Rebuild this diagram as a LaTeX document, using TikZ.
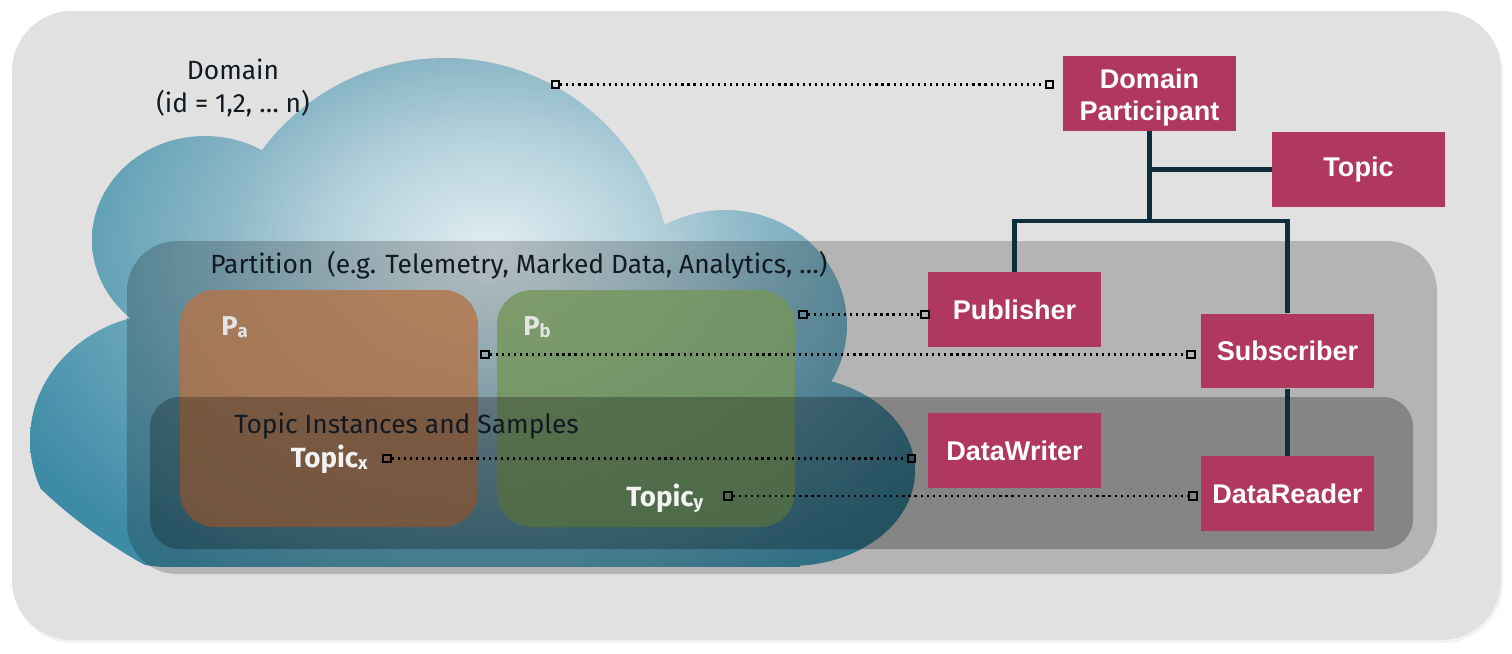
\documentclass[tikz,border=0pt]{standalone}
\usepackage{fontspec}
\setmainfont{Fira Sans}
\newfontfamily\arialfont{Liberation Sans}
\definecolor{bggray}{HTML}{E1E1E1}
\definecolor{entcol}{HTML}{B0385E}
\definecolor{treecol}{HTML}{0F2D3B}
\definecolor{pacol}{HTML}{B47348}
\definecolor{pbcol}{HTML}{749659}
\definecolor{txtdark}{HTML}{111A22}
\definecolor{lightlbl}{HTML}{E4E4E4}
\definecolor{cl0}{RGB}{226,237,242}
\definecolor{cl1}{RGB}{181,210,220}
\definecolor{cl2}{RGB}{140,183,199}
\definecolor{cl3}{RGB}{100,162,183}
\definecolor{cl4}{RGB}{62,139,166}
\pgfdeclareradialshading{cloudshade}{\pgfpoint{0bp}{0bp}}{color(0bp)=(cl0); color(7bp)=(cl1); color(12bp)=(cl2); color(17.5bp)=(cl3); color(24bp)=(cl4); color(50bp)=(cl4)}
\newcommand\lsub[1]{\raisebox{-1.4pt}{\fontsize{10.5}{10.5}\selectfont #1}}
\begin{document}
\begin{tikzpicture}[x=0.02cm,y=-0.02cm,
  lbl/.style={inner sep=0pt, text=txtdark, font=\fontsize{15}{18.7}\selectfont},
  wlbl/.style={inner sep=0pt, text=white!95!black, font=\bfseries\fontsize{15.8}{18}\selectfont},
  plbl/.style={inner sep=0pt, text=lightlbl, font=\bfseries\fontsize{15.5}{18}\selectfont},
  ent/.style={fill=entcol, text=white, align=center, inner sep=0pt,
    minimum width=3.46cm, minimum height=1.5cm,
    font=\arialfont\bfseries\fontsize{15.4}{17.8}\selectfont},
  sq/.style={draw=black, line width=1pt, minimum size=0.15cm, inner sep=0pt},
  dots/.style={draw=black, line width=1.25pt, dash pattern=on 1.25pt off 2.2pt},
  tree/.style={draw=treecol, line width=2.4pt, line join=miter},
  cloudfill/.style={shading=cloudshade}
]
\useasboundingbox (0,0) rectangle (1512,653);
% outer background
\fill[black, fill opacity=0.05, rounded corners=1.2cm] (13,13) rectangle (1503,643);
\fill[bggray, rounded corners=1.2cm] (12,11) rectangle (1501,640);

% cloud
\begin{scope}\clip (205,240) ellipse [x radius=113, y radius=104];
  \shade[cloudfill] (490,250) ellipse [x radius=560, y radius=400];\end{scope}
\begin{scope}\clip (445,286) circle [radius=228];
  \shade[cloudfill] (490,250) ellipse [x radius=560, y radius=400];\end{scope}
\begin{scope}\clip (725,325) ellipse [x radius=122, y radius=115];
  \shade[cloudfill] (490,250) ellipse [x radius=560, y radius=400];\end{scope}
\begin{scope}\clip (790,471) ellipse [x radius=125, y radius=95];
  \shade[cloudfill] (490,250) ellipse [x radius=560, y radius=400];\end{scope}
\begin{scope}\clip (170,440) ellipse [x radius=140, y radius=127];
  \shade[cloudfill] (490,250) ellipse [x radius=560, y radius=400];\end{scope}
\begin{scope}\clip (170,300) rectangle (800,566.5);
  \shade[cloudfill] (490,250) ellipse [x radius=560, y radius=400];\end{scope}

% partition
\fill[black, fill opacity=0.2, rounded corners=1cm] (127,241) rectangle (1437,574);
% Pa, Pb
\fill[pacol, fill opacity=0.8, rounded corners=0.7cm] (180,290) rectangle (478,527);
\fill[pbcol, fill opacity=0.8, rounded corners=0.7cm] (497,290) rectangle (795,527);
% topic instances
\fill[black, fill opacity=0.26, rounded corners=0.6cm] (150,397) rectangle (1413,549);

% labels
\node[lbl, anchor=base] (dom) at (233,79) {Domain};
\node[lbl, anchor=base] (domid) at (233,112) {(id = 1,2, … n)};
\node[lbl, anchor=base west] (part) at (210,273) {Partition\ \ (e.g. Telemetry, Marked Data, Analytics, …)};
\node[lbl, anchor=base west] (tis) at (234,433) {Topic Instances and Samples};
\node[plbl, anchor=base west] (pa) at (221,335) {P\lsub{a}};
\node[plbl, anchor=base west] (pb) at (523,335) {P\lsub{b}};
\node[wlbl, anchor=base east] (tx) at (368,467) {Topic\lsub{x}};
\node[wlbl, anchor=base west] (ty) at (626,506) {Topic\lsub{y}};

% entities
\node[ent] (dp) at (1149.5,93.5) {\rule{0pt}{15.8pt}Domain\\Participant};
\node[ent] (topic) at (1358.5,169.5) {Topic};
\node[ent] (pub) at (1014.5,309.5) {Publisher};
\node[ent] (sub) at (1287.5,351) {Subscriber};
\node[ent] (dw) at (1014.5,450.5) {DataWriter};
\node[ent] (dr) at (1287.5,493.5) {DataReader};

% tree
\coordinate (j) at (1149.5,221);
\draw[tree] (dp.south) -- (j);
\draw[tree] (dp.south |- topic.west) -- (topic.west);
\draw[tree] (pub.north) |- (j) -| (sub.north);
\draw[tree] (sub.south) -- (dr.north);

% connectors
\node[sq] (s1a) at (555.5,84.5) {};
\node[sq] (s1b) at (1049.5,84.5) {};
\node[sq] (s2a) at (803,314.5) {};
\node[sq] (s2b) at (925,314.5) {};
\node[sq] (s3a) at (485,354.5) {};
\node[sq] (s3b) at (1191,354.5) {};
\node[sq] (s4a) at (387,458.5) {};
\node[sq] (s4b) at (911.5,458.5) {};
\node[sq] (s5a) at (728,496) {};
\node[sq] (s5b) at (1193,496) {};
\draw[dots] (s1a) -- (s1b);
\draw[dots] (s2a) -- (s2b);
\draw[dots] (s3a) -- (s3b);
\draw[dots] (s4a) -- (s4b);
\draw[dots] (s5a) -- (s5b);
\end{tikzpicture}
\end{document}
